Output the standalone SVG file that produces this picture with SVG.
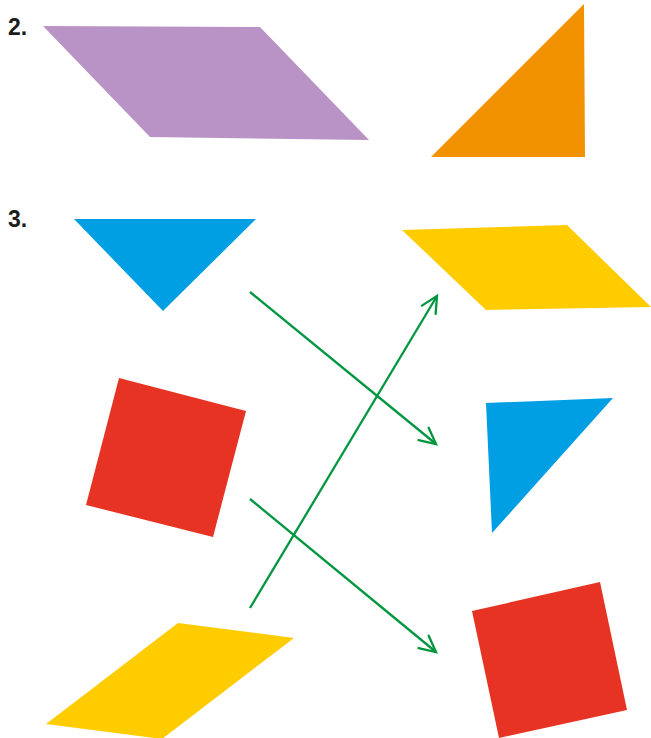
<svg xmlns="http://www.w3.org/2000/svg" width="651" height="738" viewBox="0 0 651 738">
<style>
.lbl{font-family:"Liberation Sans",Arial,sans-serif;font-weight:bold;font-size:23px;fill:#1d1d1b}
.purple{fill:#BA93C6}.orange{fill:#F39200}.blue{fill:#009FE3}.yellow{fill:#FFCC00}.red{fill:#E63323}
.conn{fill:none;stroke:#009640;stroke-width:2.3}
</style>
<defs>
<marker id="arr" markerUnits="userSpaceOnUse" markerWidth="20" markerHeight="20" viewBox="-18 -10 20 20" refX="0" refY="0" orient="auto" overflow="visible">
<path d="M-16,-8 L0,0 L-16,8" fill="none" stroke="#009640" stroke-width="2.3" stroke-linecap="round" stroke-linejoin="miter"/>
</marker>
</defs>
<rect width="651" height="738" fill="#fff"/>
<text class="lbl" x="8" y="35">2.</text>
<text class="lbl" x="8" y="227">3.</text>
<g id="purple-parallelogram"><polygon class="purple" points="43,26 260,27 369,140 150,137"/></g>
<g id="orange-triangle"><polygon class="orange" points="584,4 585,157 431,157"/></g>
<g id="blue-triangle-left"><polygon class="blue" points="74,219 256,219 163,311"/></g>
<g id="red-square-left"><polygon class="red" points="119,378 246,411 213,537 86,505"/></g>
<g id="yellow-parallelogram-left"><polygon class="yellow" points="178,623 294,638 162,739 46,724"/></g>
<g id="yellow-parallelogram-right"><polygon class="yellow" points="402,230 567,225 651,307 486,310"/></g>
<g id="blue-triangle-right"><polygon class="blue" points="486,403 613,398 492,533"/></g>
<g id="red-square-right"><polygon class="red" points="472,611 600,582 627,710 499,738"/></g>
<g id="connectors">
<line class="conn" x1="250" y1="292" x2="436" y2="444" marker-end="url(#arr)"/>
<line class="conn" x1="250" y1="608" x2="437" y2="296" marker-end="url(#arr)"/>
<line class="conn" x1="250" y1="499" x2="436" y2="652" marker-end="url(#arr)"/>
</g>
</svg>
